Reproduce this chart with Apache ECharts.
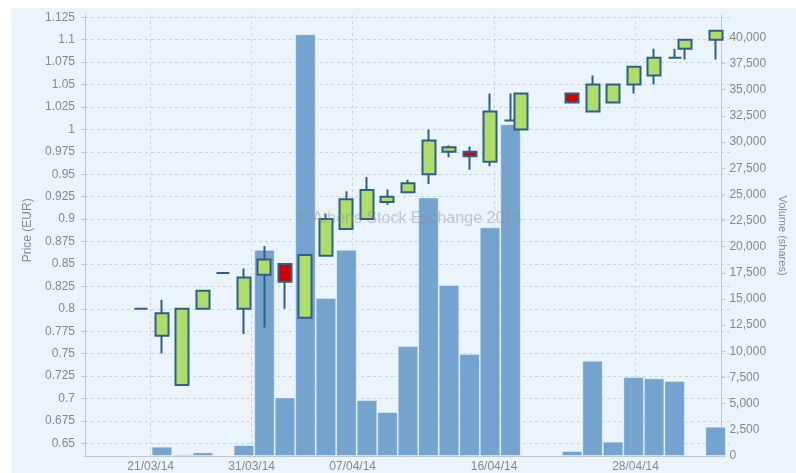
<!DOCTYPE html>
<html>
<head>
<meta charset="utf-8">
<script src="https://cdn.jsdelivr.net/npm/echarts@6/dist/echarts.min.js"></script>
<style>
  html, body { margin: 0; padding: 0; background: #fff; }
  #bg { position: absolute; left: 11px; top: 8px; right: 0; bottom: 0; background: #ebf4fb; }
  #chart { position: absolute; left: 0; top: 0; width: 796px; height: 473px; }
</style>
</head>
<body>
<div id="bg"></div>
<div id="chart"></div>
<script>
// trading days and their place on the ordinal axis (half-day steps)
const days = ['20/03/14', '21/03/14', '24/03/14', '26/03/14', '27/03/14', '28/03/14', '31/03/14',
  '01/04/14', '02/04/14', '03/04/14', '04/04/14', '07/04/14', '08/04/14', '09/04/14', '10/04/14',
  '11/04/14', '14/04/14', '15/04/14', '16/04/14', '17/04/14', '22/04/14', '23/04/14', '24/04/14',
  '25/04/14', '28/04/14', '29/04/14', '30/04/14', '02/05/14'];
const slots = [0, 2, 4, 6, 8, 10, 12, 14, 16, 18, 20, 22, 24, 26, 28, 30, 32, 34, 36, 37, 42, 44, 46, 48, 50, 52, 53, 56];

const open  = [0.8, 0.77, 0.715, 0.8, 0.84, 0.8, 0.838, 0.85, 0.79, 0.859, 0.889, 0.9, 0.919, 0.93, 0.95,
  0.975, 0.975, 0.964, 1.01, 1.0, 1.04, 1.02, 1.03, 1.05, 1.06, 1.08, 1.09, 1.1];
const close = [0.8, 0.795, 0.8, 0.82, 0.84, 0.835, 0.855, 0.83, 0.86, 0.9, 0.922, 0.9325, 0.925, 0.94, 0.9875,
  0.98, 0.97, 1.02, 1.01, 1.04, 1.03, 1.05, 1.05, 1.07, 1.08, 1.08, 1.1, 1.11];
const low   = [0.8, 0.75, 0.715, 0.8, 0.84, 0.772, 0.779, 0.8, 0.79, 0.859, 0.889, 0.9, 0.916, 0.93, 0.939,
  0.969, 0.955, 0.959, 1.01, 1.0, 1.03, 1.02, 1.03, 1.04, 1.05, 1.08, 1.078, 1.078];
const high  = [0.8, 0.81, 0.8, 0.82, 0.84, 0.845, 0.87, 0.85, 0.86, 0.906, 0.931, 0.947, 0.933, 0.944, 1.0,
  0.982, 0.981, 1.04, 1.04, 1.04, 1.04, 1.06, 1.05, 1.07, 1.09, 1.09, 1.1, 1.11];
const volume = [null, 890, 160, 350, 100, 1050, 19700, 5600, 40300, 15100, 19700, 5350, 4200, 10500, 24700,
  16350, 9750, 21850, 31700, null, 480, 9100, 1370, 7550, 7420, 7170, null, 2800];

const tickDates = ['21/03/14', '31/03/14', '07/04/14', '16/04/14', '28/04/14'];
const tickSlots = [1, 11, 21, 35, 49];
const volumeTicks = [0, 2500, 5000, 7500, 10000, 12500, 15000, 17500, 20000, 22500, 25000,
  27500, 30000, 32500, 35000, 37500, 40000];

const firstSlot = -5, lastSlot = 57;

// half-day categories (candles) and full-day categories (volume columns)
const halfCats = [];
for (let q = firstSlot; q <= lastSlot; q++) {
  const t = tickSlots.indexOf(q);
  const d = slots.indexOf(q);
  halfCats.push(t >= 0 ? tickDates[t] : (d >= 0 ? days[d] : 'h' + q));
}
const fullCats = [];
for (let q = firstSlot + 1; q < lastSlot; q += 2) fullCats.push('f' + q);

const candleData = slots.map((q, i) => [q - firstSlot, open[i], close[i], low[i], high[i]]);
const volData = fullCats.map(() => null);
slots.forEach((q, i) => {
  if (q % 2 === 0 && volume[i] != null) volData[(q - firstSlot - 1) / 2] = volume[i];
});

const chart = echarts.init(document.getElementById('chart'));
const font = 'Liberation Sans, Arial, sans-serif';
const grey = '#888';
const axisGrey = '#c0c6cc';
const isTick = (i) => tickSlots.indexOf(i + firstSlot) >= 0;
const band = 646 / halfCats.length;

const option = {
  animation: false,
  textStyle: { fontFamily: font },
  grid: [
    { left: 85, right: 65, top: 15, bottom: 17 },
    { left: 85, right: 65, top: 17.3, bottom: 29.7 },
    { left: 85 + band / 2, right: 65 + band / 2, top: 15, bottom: 17 }
  ],
  xAxis: [
    {
      type: 'category', gridIndex: 0, data: halfCats,
      axisLine: { lineStyle: { color: axisGrey } },
      axisTick: { alignWithLabel: true, interval: isTick, length: 5, lineStyle: { color: axisGrey } },
      axisLabel: { interval: isTick, color: grey, fontSize: 12, margin: 5, fontFamily: font },
      splitLine: { show: true, alignWithLabel: true, interval: isTick,
        lineStyle: { color: '#cdd5dc', type: [3, 3] } }
    },
    { type: 'category', gridIndex: 1, data: halfCats, show: false },
    { type: 'category', gridIndex: 2, data: fullCats, show: false }
  ],
  yAxis: [
    {
      type: 'value', gridIndex: 0, position: 'left', min: 0, max: 1,
      axisLine: { show: true, lineStyle: { color: axisGrey } },
      axisTick: { show: false }, axisLabel: { show: false }, splitLine: { show: false }
    },
    {
      type: 'value', gridIndex: 0, position: 'right', min: 0, max: 42140,
      name: 'Volume (shares)', nameLocation: 'middle', nameRotate: -90, nameGap: 55,
      nameTextStyle: { color: grey, fontSize: 11, fontFamily: font },
      axisLine: { show: true, lineStyle: { color: axisGrey } },
      axisTick: { show: true, length: 4, customValues: volumeTicks, lineStyle: { color: axisGrey } },
      axisLabel: { customValues: volumeTicks, color: grey, fontSize: 12, margin: 8, fontFamily: font,
        formatter: (v) => v.toLocaleString('en-US') },
      splitLine: { show: false }
    },
    {
      type: 'value', gridIndex: 1, position: 'left', min: 0.65, max: 1.125, interval: 0.025,
      name: 'Price (EUR)', nameLocation: 'middle', nameGap: 43,
      nameTextStyle: { color: grey, fontSize: 12, fontFamily: font },
      axisLine: { show: false },
      axisTick: { show: true, length: 4, lineStyle: { color: axisGrey } },
      axisLabel: { color: grey, fontSize: 12, margin: 10, fontFamily: font },
      splitLine: { show: true, lineStyle: { color: '#cdd5dc', type: [3, 3] } }
    },
    { type: 'value', gridIndex: 2, min: 0, max: 42140, show: false }
  ],
  graphic: [{
    type: 'text', x: 409, y: 219, z: 100, silent: true,
    style: {
      text: '\u00a9 Athens Stock Exchange 2014', fill: 'rgba(140,145,150,0.45)',
      font: '16px ' + font, align: 'center', verticalAlign: 'middle'
    }
  }],
  series: [
    {
      name: 'Volume', type: 'bar', xAxisIndex: 2, yAxisIndex: 3,
      data: volData, barCategoryGap: '0%', z: 2,
      itemStyle: { color: '#74a3cf', borderColor: 'rgba(255,255,255,0.35)', borderWidth: 1 }
    },
    {
      name: 'Price', type: 'candlestick', xAxisIndex: 1, yAxisIndex: 2,
      data: candleData, encode: { x: 0, y: [1, 2, 3, 4] },
      barWidth: 13.5, clip: false, z: 3,
      itemStyle: {
        color: '#aedd6a', color0: '#d10000',
        borderColor: '#2f5e8c', borderColor0: '#2f5e8c', borderWidth: 2
      }
    }
  ]
};

chart.setOption(option);
</script>
</body>
</html>
